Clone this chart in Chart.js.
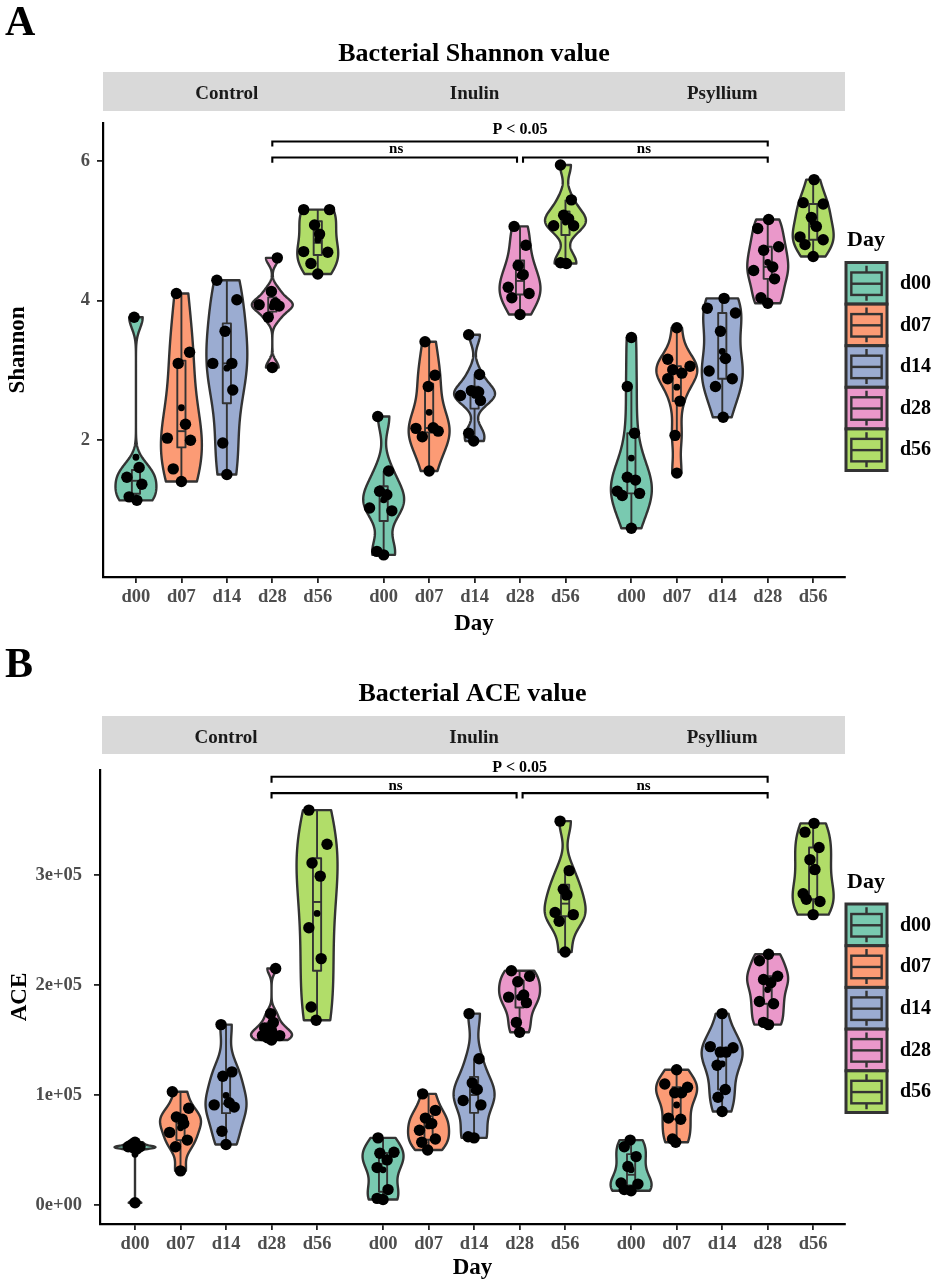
<!DOCTYPE html>
<html><head><meta charset="utf-8">
<script src="https://cdn.jsdelivr.net/npm/chart.js@4.4.1/dist/chart.umd.min.js"></script>
<style>
html,body{margin:0;padding:0;background:#fff;}
#wrap{position:relative;width:935px;height:1286px;background:#fff;}
canvas{position:absolute;left:0;display:block;}
</style></head><body>
<div id="wrap">
<canvas id="cA" width="935" height="640" style="top:0;width:935px;height:640px"></canvas>
<canvas id="cB" width="935" height="646" style="top:640px;width:935px;height:646px"></canvas>
</div>
<script>
// ---------------- DATA ----------------
const dayLabels = ['d00','d07','d14','d28','d56'];
const facetLabels = ['Control','Inulin','Psyllium'];
const dayColors = ['#66C2A5','#FC8D62','#8DA0CB','#E78AC3','#A6D854'];

// Shannon values per facet, per day
const shannonControl = [
  [3.76,1.61,1.47,1.37,1.19,1.14],
  [4.10,3.26,3.10,2.23,2.03,2.00,1.59,1.41],
  [4.29,4.01,3.56,3.10,3.10,2.72,1.96,1.51],
  [4.61,4.13,3.96,3.94,3.92,3.76,3.04],
  [5.30,5.30,5.08,4.95,4.70,4.69,4.53,4.38]
];
const shannonInulin = [
  [2.34,1.56,1.27,1.22,1.03,0.99,0.41,0.36],
  [3.41,2.93,2.77,2.17,2.05,2.18,2.13,1.56],
  [3.51,2.94,2.71,2.69,2.64,2.57,2.10,1.99],
  [5.06,4.79,4.50,4.37,4.19,4.10,4.04,3.80],
  [5.94,5.44,5.22,5.17,5.07,5.07,4.54,4.53]
];
const shannonPsyllium = [
  [3.47,2.77,2.10,1.47,1.43,1.27,1.21,1.24,0.74],
  [3.61,3.16,3.06,3.01,2.96,2.88,2.56,2.07,1.53],
  [4.03,3.89,3.82,3.56,3.17,2.99,2.88,2.77,2.33],
  [5.16,5.03,4.77,4.72,4.48,4.43,4.31,4.04,3.96],
  [5.73,5.40,5.38,5.19,5.06,4.91,4.87,4.80,4.63]
];
// horizontal jitter of each sample (fraction of one category step)
const shannonControlJitter = [
  [-0.04,0.07,-0.20,0.13,-0.15,0.02],
  [-0.11,0.18,-0.07,0.09,-0.31,0.20,-0.18,0.00],
  [-0.22,0.22,-0.04,-0.31,0.11,0.13,-0.09,0.00],
  [0.11,-0.02,0.07,-0.29,0.15,-0.09,0.00],
  [-0.31,0.26,-0.07,0.04,-0.31,0.22,-0.15,0.00]
];
const shannonInulinJitter = [
  [-0.13,0.11,-0.09,0.07,-0.31,0.18,-0.15,0.00],
  [-0.09,0.13,-0.02,-0.29,-0.15,0.09,0.20,0.00],
  [-0.13,0.11,-0.07,0.09,-0.31,0.13,-0.13,-0.02],
  [-0.13,0.13,-0.04,0.07,-0.26,0.20,-0.18,0.00],
  [-0.11,0.13,-0.04,0.07,0.18,-0.26,-0.11,0.02]
];
const shannonPsylliumJitter = [
  [0.00,-0.09,0.07,-0.09,0.09,-0.31,-0.20,0.18,0.00],
  [0.00,-0.20,0.29,-0.09,0.11,-0.20,0.07,-0.04,0.00],
  [0.04,-0.33,0.29,-0.04,0.07,-0.29,0.22,-0.15,0.02],
  [0.02,-0.22,0.24,-0.09,0.11,-0.31,0.15,-0.15,0.00],
  [0.02,-0.22,0.22,-0.04,0.07,-0.29,0.22,-0.18,0.00]
];

// ACE values per facet, per day
const aceControl = [
  [57000,55000,53000,53000,52000,51000,2000],
  [103000,88000,80000,78000,74000,66000,59000,53000,31000],
  [164000,121000,117000,93000,91000,89000,67000,55000],
  [215000,174000,166000,161000,158000,154000,154000,152000,150000],
  [359000,328000,311000,299000,252000,224000,180000,168000]
];
const aceInulin = [
  [61000,48000,47000,41000,34000,14000,6000,5000],
  [101000,86000,79000,74000,68000,60000,57000,50000],
  [174000,133000,111000,105000,95000,91000,62000,61000],
  [213000,208000,203000,191000,189000,184000,166000,157000],
  [349000,304000,287000,282000,266000,264000,258000,230000]
];
const acePsyllium = [
  [59000,53000,44000,35000,20000,19000,14000,13000],
  [123000,110000,107000,102000,102000,79000,78000,60000,57000],
  [174000,144000,143000,139000,139000,127000,105000,98000,85000],
  [228000,222000,208000,205000,202000,185000,183000,166000,164000],
  [347000,339000,325000,314000,305000,283000,278000,276000,264000]
];
const aceControlJitter = [
  [0.00,-0.07,-0.15,0.11,-0.04,0.04,0.00],
  [-0.18,0.18,-0.09,0.04,0.07,-0.24,0.15,-0.11,0.00],
  [-0.11,0.13,-0.07,0.07,-0.26,0.18,-0.09,0.00],
  [0.09,-0.02,0.04,-0.15,0.00,-0.20,0.18,-0.09,0.00],
  [-0.18,0.22,-0.11,0.07,-0.18,0.09,-0.13,-0.02]
];
const aceInulinJitter = [
  [-0.11,0.24,-0.07,0.09,-0.13,0.11,-0.13,0.00],
  [-0.13,0.15,-0.07,0.07,-0.20,0.15,-0.15,-0.02],
  [-0.11,0.11,-0.04,0.07,-0.24,0.15,-0.13,0.00],
  [-0.18,0.22,-0.04,0.09,-0.24,0.15,-0.07,0.00],
  [-0.11,0.09,-0.04,0.04,-0.22,0.18,-0.13,0.00]
];
const acePsylliumJitter = [
  [-0.02,-0.15,0.11,-0.07,-0.22,0.15,-0.15,0.00],
  [0.00,-0.26,0.24,-0.04,0.11,-0.18,0.09,-0.09,-0.02],
  [0.00,-0.26,0.24,-0.04,0.09,-0.11,0.07,-0.09,0.00],
  [0.02,-0.18,0.22,-0.09,0.07,-0.18,0.13,-0.09,0.02],
  [0.02,-0.18,0.13,-0.07,0.04,-0.22,-0.15,0.15,0.00]
];

const shannonTicks = [2,4,6];
const shannonTickLabels = ['2','4','6'];
const aceTicks = [0,100000,200000,300000];
const aceTickLabels = ['0e+00','1e+05','2e+05','3e+05'];

// ---------------- LAYOUT / STYLE ----------------
const SERIF = '"Liberation Serif","Times New Roman",serif';
const facetStart = [1, 6.45, 11.9];   // x position of d00 in each facet
const tickPositions = [];
facetStart.forEach(s => dayLabels.forEach((d,i) => tickPositions.push(s+i)));
const compareDay = 3; // d28 compared across facets

function rgba(hex,a){const n=parseInt(hex.slice(1),16);return `rgba(${n>>16},${(n>>8)&255},${n&255},${a})`;}
const fills = dayColors.map(c => rgba(c,0.88));

function q7(s,p){const h=(s.length-1)*p;const l=Math.floor(h);const u=Math.min(s.length-1,l+1);return s[l]+(h-l)*(s[u]-s[l]);}
function meanOf(a){return a.reduce((t,v)=>t+v,0)/a.length;}
function sdOf(a){const m=meanOf(a);return Math.sqrt(a.reduce((t,v)=>t+(v-m)*(v-m),0)/(a.length-1));}
function bwNrd0(s){const hi=sdOf(s);let lo=Math.min(hi,(q7(s,0.75)-q7(s,0.25))/1.34);if(!(lo>0))lo=hi||Math.abs(s[0])||1;return 0.9*lo*Math.pow(s.length,-0.2);}

function buildGroups(facets, jitters){
  const out=[];
  facets.forEach((facet,f)=>facet.forEach((vals,d)=>{
    out.push({x:facetStart[f]+d, values:vals, jitter:jitters[f][d], fill:fills[d]});
  }));
  return out;
}

const violinPlugin = {
  id:'violins',
  beforeDatasetsDraw(chart, args, opts){
    const {ctx} = chart; const x = chart.scales.x, y = chart.scales.y;
    ctx.save();
    opts.groups.forEach(g=>{
      const s=[...g.values].sort((a,b)=>a-b);
      const n=s.length, lo=s[0], hi=s[n-1];
      const bw=bwNrd0(s);
      const N=200, ys=[], ds=[];
      for(let i=0;i<N;i++){
        const yy=lo+(hi-lo)*i/(N-1); let d=0;
        for(const v of s){const z=(yy-v)/bw; d+=Math.exp(-0.5*z*z);}
        ys.push(yy); ds.push(d);
      }
      const dmax=Math.max(...ds);
      ctx.beginPath();
      for(let i=0;i<N;i++){
        const px=x.getPixelForValue(g.x+opts.halfWidth*ds[i]/dmax), py=y.getPixelForValue(ys[i]);
        if(i===0) ctx.moveTo(px,py); else ctx.lineTo(px,py);
      }
      for(let i=N-1;i>=0;i--){
        ctx.lineTo(x.getPixelForValue(g.x-opts.halfWidth*ds[i]/dmax), y.getPixelForValue(ys[i]));
      }
      ctx.closePath();
      ctx.fillStyle=g.fill; ctx.fill();
      ctx.lineJoin='round'; ctx.lineWidth=2.4; ctx.strokeStyle='#333333'; ctx.stroke();
      // boxplot
      const q1=q7(s,0.25), med=q7(s,0.5), q3=q7(s,0.75), iqr=q3-q1;
      const wHi=Math.max(...s.filter(v=>v<=q3+1.5*iqr));
      const wLo=Math.min(...s.filter(v=>v>=q1-1.5*iqr));
      const cx=x.getPixelForValue(g.x);
      const bl=x.getPixelForValue(g.x-opts.boxHalf), br=x.getPixelForValue(g.x+opts.boxHalf);
      const pq1=y.getPixelForValue(q1), pq3=y.getPixelForValue(q3), pm=y.getPixelForValue(med);
      ctx.lineWidth=1.9; ctx.strokeStyle='#333333';
      ctx.beginPath();
      ctx.moveTo(cx,y.getPixelForValue(wHi)); ctx.lineTo(cx,pq3);
      ctx.moveTo(cx,pq1); ctx.lineTo(cx,y.getPixelForValue(wLo));
      ctx.stroke();
      ctx.strokeRect(bl,pq3,br-bl,pq1-pq3);
      ctx.beginPath(); ctx.moveTo(bl,pm); ctx.lineTo(br,pm); ctx.stroke();
    });
    ctx.restore();
  }
};

function drawKey(ctx,x,y,w,h,color){
  ctx.fillStyle=color; ctx.fillRect(x,y,w,h);
  ctx.strokeStyle='#333333'; ctx.lineWidth=3; ctx.strokeRect(x,y,w,h);
  const cx=x+w/2;
  ctx.lineWidth=2.4;
  ctx.beginPath();
  ctx.moveTo(cx,y+h*0.08); ctx.lineTo(cx,y+h*0.24);
  ctx.moveTo(cx,y+h*0.78); ctx.lineTo(cx,y+h*0.92);
  ctx.stroke();
  ctx.strokeRect(x+w*0.13,y+h*0.24,w*0.74,h*0.54);
  ctx.beginPath(); ctx.moveTo(x+w*0.13,y+h*0.51); ctx.lineTo(x+w*0.87,y+h*0.51); ctx.stroke();
}

const decorPlugin = {
  id:'decor',
  afterDraw(chart, args, o){
    const {ctx, chartArea:ca} = chart; const x=chart.scales.x, y=chart.scales.y;
    ctx.save();
    // panel letter
    ctx.fillStyle='#000'; ctx.font=`bold 42px ${SERIF}`; ctx.textAlign='left'; ctx.textBaseline='alphabetic';
    ctx.fillText(o.letter,5,o.letterBase);
    // facet strip
    ctx.fillStyle='#D9D9D9'; ctx.fillRect(o.stripLeft,o.stripTop,ca.right-o.stripLeft,o.stripH);
    ctx.fillStyle='#1A1A1A'; ctx.font=`bold 19px ${SERIF}`; ctx.textAlign='center';
    facetLabels.forEach((lab,f)=>ctx.fillText(lab,x.getPixelForValue(facetStart[f]+2),o.stripBase));
    // significance brackets
    const b=o.brackets; const c0=facetStart[0]+compareDay, c1=facetStart[1]+compareDay, c2=facetStart[2]+compareDay;
    const br=(x1,x2,yl,yt)=>{const p1=x.getPixelForValue(x1),p2=x.getPixelForValue(x2),py=y.getPixelForValue(yl),pt=y.getPixelForValue(yt);
      ctx.beginPath(); ctx.moveTo(p1,pt); ctx.lineTo(p1,py); ctx.lineTo(p2,py); ctx.lineTo(p2,pt); ctx.stroke();};
    ctx.strokeStyle='#000'; ctx.lineWidth=2.1; ctx.lineJoin='miter';
    br(c0,c2,b.upper,b.upperTip);
    br(c0,c1-0.066,b.lower,b.lowerTip);
    br(c1+0.066,c2,b.lower,b.lowerTip);
    ctx.fillStyle='#000'; ctx.textBaseline='middle';
    ctx.font=`bold 16px ${SERIF}`;
    ctx.fillText('P < 0.05',x.getPixelForValue((c0+c2)/2),y.getPixelForValue(b.pText));
    ctx.font=`bold 15px ${SERIF}`;
    ctx.fillText('ns',x.getPixelForValue((c0+c1)/2),y.getPixelForValue(b.nsText));
    ctx.fillText('ns',x.getPixelForValue((c1+c2)/2),y.getPixelForValue(b.nsText));
    // legend
    const lx=ca.right+1;
    ctx.textAlign='left'; ctx.textBaseline='alphabetic'; ctx.font=`bold 22px ${SERIF}`;
    ctx.fillText('Day',lx+1,o.legTitleBase);
    dayLabels.forEach((d,i)=>{
      const ky=o.legTop+i*o.legH;
      drawKey(ctx,lx,ky,41,o.legH,fills[i]);
      ctx.fillStyle='#000'; ctx.font=`bold 20px ${SERIF}`; ctx.textBaseline='middle'; ctx.textAlign='left';
      ctx.fillText(d,lx+54,ky+o.legH/2+0.5);
    });
    ctx.restore();
  }
};

function makeChart(id,c){
  const groups=buildGroups(c.facets,c.jitters);
  const pts=groups.flatMap(g=>g.values.map((v,i)=>({x:g.x+g.jitter[i],y:v})));
  const means=groups.map(g=>({x:g.x,y:meanOf(g.values)}));
  return new Chart(document.getElementById(id),{
    type:'scatter',
    data:{datasets:[
      {label:'mean',data:means,pointRadius:3.4,pointHoverRadius:3.4,backgroundColor:'#000',borderWidth:0,clip:false},
      {label:'samples',data:pts,pointRadius:5.7,pointHoverRadius:5.7,backgroundColor:'#000',borderWidth:0,clip:false}
    ]},
    options:{
      responsive:false, animation:false, events:[], devicePixelRatio:1,
      layout:{padding:{left:0,right:90,top:0,bottom:0}},
      plugins:{
        legend:{display:false}, tooltip:{enabled:false},
        title:{display:true,text:c.title,fullSize:false,color:'#000',font:{family:SERIF,size:26,weight:'bold'},padding:{top:38.4,bottom:c.titleBottom}},
        violins:{groups,halfWidth:0.45,boxHalf:0.09},
        decor:c.decor
      },
      scales:{
        x:{type:'linear',min:c.xmin,max:c.xmax,
          afterBuildTicks:s=>{s.ticks=tickPositions.map(v=>({value:v}));},
          afterFit:s=>{s.height=c.xAxisH;},
          ticks:{autoSkip:false,maxRotation:0,padding:c.xTickPad,color:'#4D4D4D',font:{family:SERIF,size:18.5,weight:'bold'},callback:(v,i)=>dayLabels[i%5]},
          grid:{drawOnChartArea:false,drawTicks:true,tickLength:6,color:'#222',lineWidth:1.8},
          border:{display:true,color:'#000',width:2.2},
          title:{display:true,text:'Day',color:'#000',font:{family:SERIF,size:23,weight:'bold'},padding:{top:0,bottom:c.xTitlePad}}
        },
        y:{type:'linear',min:c.ymin,max:c.ymax,
          afterBuildTicks:s=>{s.ticks=c.yTicks.map(v=>({value:v}));},
          afterFit:s=>{s.width=c.yAxisW;},
          ticks:{padding:c.yTickPad,color:'#4D4D4D',font:{family:SERIF,size:18.5,weight:'bold'},callback:(v,i)=>c.yTickLabels[i]},
          grid:{drawOnChartArea:false,drawTicks:true,tickLength:6,color:'#222',lineWidth:1.8},
          border:{display:true,color:'#000',width:2.2},
          title:{display:true,text:c.yTitle,color:'#000',font:{family:SERIF,size:23,weight:'bold'},padding:{top:c.yTitlePad,bottom:0}}
        }
      }
    },
    plugins:[violinPlugin,decorPlugin]
  });
}

makeChart('cA',{
  title:'Bacterial Shannon value', yTitle:'Shannon',
  facets:[shannonControl,shannonInulin,shannonPsyllium],
  jitters:[shannonControlJitter,shannonInulinJitter,shannonPsylliumJitter],
  xmin:0.275, xmax:16.6, ymin:0.043, ymax:6.54,
  yTicks:shannonTicks, yTickLabels:shannonTickLabels,
  yAxisW:103, xAxisH:63, titleBottom:53.4, xTickPad:3, xTitlePad:2, yTickPad:7, yTitlePad:4,
  decor:{letter:'A',letterBase:35,stripLeft:103,stripTop:72,stripH:39,stripBase:99,
    brackets:{upper:6.276,upperTip:6.204,lower:6.047,lowerTip:5.97,nsText:6.167,pText:6.436},
    legTitleBase:246,legTop:262.5,legH:41.6}
});
makeChart('cB',{
  title:'Bacterial ACE value', yTitle:'ACE',
  facets:[aceControl,aceInulin,acePsyllium],
  jitters:[aceControlJitter,aceInulinJitter,acePsylliumJitter],
  xmin:0.231, xmax:16.6, ymin:-17300, ymax:395500,
  yTicks:aceTicks, yTickLabels:aceTickLabels,
  yAxisW:100, xAxisH:62, titleBottom:60.4, xTickPad:3, xTitlePad:4, yTickPad:12, yTitlePad:6,
  decor:{letter:'B',letterBase:37,stripLeft:102,stripTop:76,stripH:38,stripBase:102.5,
    brackets:{upper:389400,upperTip:384000,lower:374500,lowerTip:369500,nsText:381000,pText:397700},
    legTitleBase:248,legTop:264,legH:41.7}
});
</script>
</body></html>
